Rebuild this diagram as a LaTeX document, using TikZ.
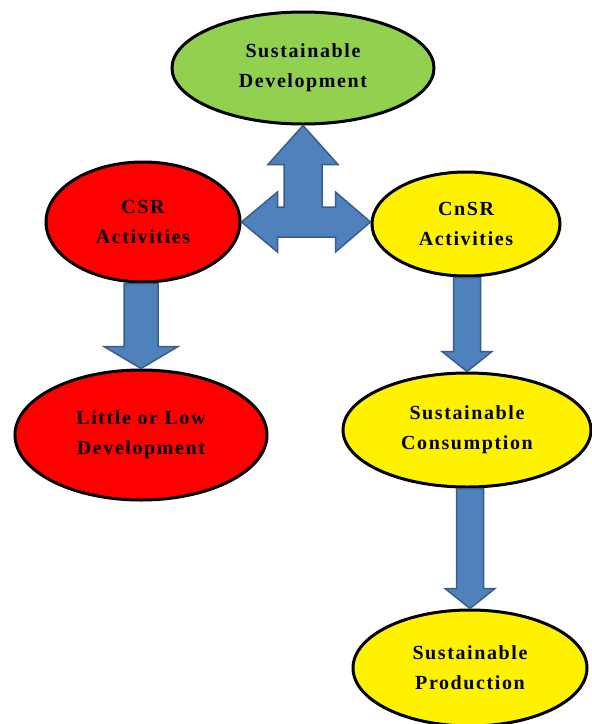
\documentclass[tikz,border=0pt]{standalone}
\usepackage{fontspec}
\setmainfont[LetterSpace=8]{Liberation Serif}
\usetikzlibrary{shapes,calc}
\definecolor{sdgreen}{HTML}{92D050}
\definecolor{arrowblue}{HTML}{4F81BD}
\definecolor{arrowedge}{HTML}{385D8A}
\tikzstyle{bubble}=[ellipse,draw=black,line width=3pt,inner sep=0pt,align=center,font=\fontsize{20}{30}\selectfont\bfseries]
\tikzstyle{fatarrow}=[fill=arrowblue,draw=arrowedge,line width=1.5pt,line join=miter]
% block arrow pointing down: from, to, half shaft, half head, head length
\newcommand{\fatdown}[5]{\draw[fatarrow] let \p1=(#1), \p2=(#2) in (\x2-#3,\y1) -- (\x2+#3,\y1) -- (\x2+#3,\y2+#5) -- (\x2+#4,\y2+#5) -- (\x2,\y2) -- (\x2-#4,\y2+#5) -- (\x2-#3,\y2+#5) -- cycle;}

\begin{document}
\begin{tikzpicture}[x=1pt,y=-1pt]
	\clip (0,0) rectangle (592,724);
	\node[bubble,fill=sdgreen,minimum width=262pt,minimum height=112pt] (sd) at (303,68) {Sustainable\\Development};
	\node[bubble,fill=red,minimum width=194pt,minimum height=120pt] (csr) at (143,222) {CSR\\Activities};
	\node[bubble,fill=red,minimum width=252pt,minimum height=130pt] (low) at (141,435) {Little or Low\\Development};
	\node[bubble,fill=yellow,minimum width=188pt,minimum height=104pt] (cnsr) at (466,224) {CnSR\\Activities};
	\node[bubble,fill=yellow,minimum width=248pt,minimum height=114pt] (cons) at (467,430) {Sustainable\\Consumption};
	\node[bubble,fill=yellow,minimum width=234pt,minimum height=116pt] (prod) at (470,668) {Sustainable\\Production};

	% three way arrow
	\draw[fatarrow] let \p1=(sd.south), \p2=(csr.east), \p3=(cnsr.west) in
		(\x1,\y1) -- (\x1+35,\y1-39) -- (\x1+19,\y1-39) -- (\x1+19,\y2+15) -- (\x3-35,\y2+15) -- (\x3-35,\y2+30) -- (\x3,\y2)
		-- (\x3-35,\y2-30) -- (\x3-35,\y2-15) -- (\x2+36,\y2-15) -- (\x2+36,\y2-30) -- (\x2,\y2) -- (\x2+36,\y2+30)
		-- (\x2+36,\y2+15) -- (\x1-19,\y2+15) -- (\x1-19,\y1-39) -- (\x1-35,\y1-39) -- cycle;

	\fatdown{csr.south}{low.north}{17}{37}{22}
	\fatdown{cnsr.south}{cons.north}{13.5}{25}{20}
	\fatdown{cons.south}{prod.north}{13.5}{25}{20}
\end{tikzpicture}
\end{document}
